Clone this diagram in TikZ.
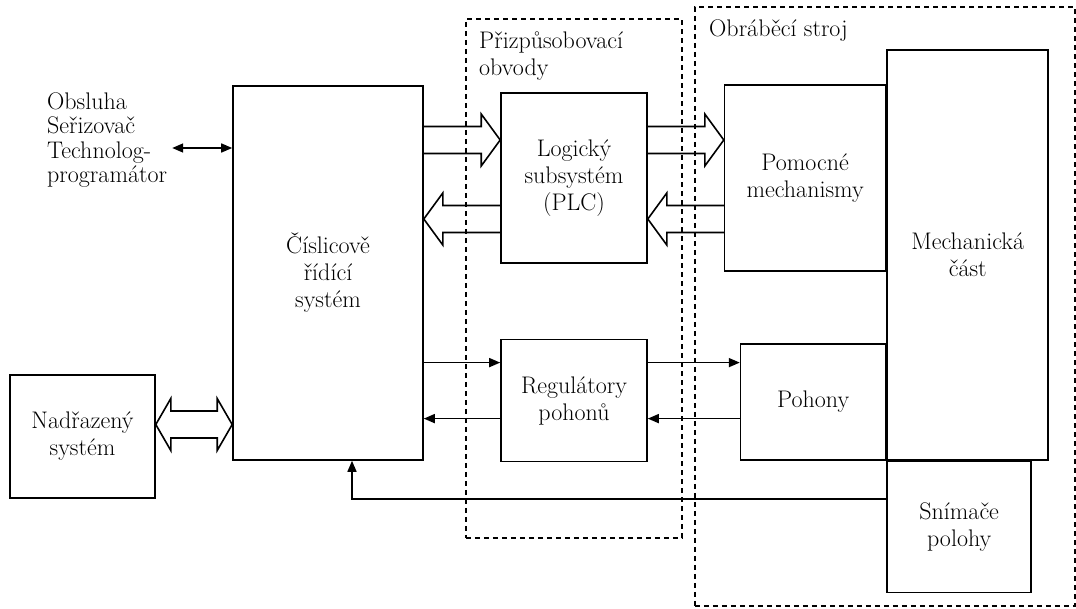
\documentclass[tikz,border=0pt]{standalone}
\usepackage{tikz}
\usetikzlibrary{arrows.meta,positioning,calc}

% hollow bus arrow: #1 start, #2 tip
\newcommand{\fatarrow}[2]{%
  \draw[fat] let \p1=(#1), \p2=(#2), \n1={ifthenelse(\x2>\x1,1,-1)} in
    (\x1,{\y1+13.5pt}) -- ({\x2-\n1*19pt},{\y1+13.5pt}) -- ({\x2-\n1*19pt},{\y1+26pt})
    -- (\x2,\y1) -- ({\x2-\n1*19pt},{\y1-26pt}) -- ({\x2-\n1*19pt},{\y1-13.5pt})
    -- (\x1,{\y1-13.5pt});}
% hollow bus arrow with two heads, #1 left tip, #2 right tip
\newcommand{\fatdouble}[2]{%
  \draw[fat] let \p1=(#1), \p2=(#2) in
    (\x1,\y1) -- ({\x1+15pt},{\y1+26pt}) -- ({\x1+15pt},{\y1+13.5pt})
    -- ({\x2-15pt},{\y1+13.5pt}) -- ({\x2-15pt},{\y1+26pt}) -- (\x2,\y1)
    -- ({\x2-15pt},{\y1-26pt}) -- ({\x2-15pt},{\y1-13.5pt})
    -- ({\x1+15pt},{\y1-13.5pt}) -- ({\x1+15pt},{\y1-26pt}) -- cycle;}

\begin{document}
\begin{tikzpicture}[
    x=1pt,y=1pt,
    font=\fontsize{24}{27}\selectfont,
    box/.style={draw,line width=1.6pt,inner sep=0pt,align=center},
    frame/.style={draw,line width=1.6pt,dash pattern=on 5pt off 4pt,inner sep=0pt,anchor=north west},
    lbl/.style={inner sep=0pt,align=left,anchor=west},
    fat/.style={draw,line width=1.6pt,line join=miter},
    sig/.style={line width=1.6pt},
    >={Triangle[length=11pt,width=9pt]}
  ]
    \useasboundingbox[fill=white] (0,0) rectangle (1076,-608);

    % Dashed groups
    \node[frame,minimum width=216,minimum height=519] (adapt) at (465,-18) {};
    \node[frame,minimum width=380,minimum height=599] (machine) at (694,-6) {};
    \node[lbl] (adaptlbl) at (479,-56) {Přizpůsobovací\\obvody};
    \node[lbl] (machinelbl) at (709,-31) {Obráběcí stroj};

    % Control side
    \node[lbl,font=\fontsize{24}{24.5}\selectfont] (oper) at (47,-140) {Obsluha\\Seřizovač\\Technolog-\\programátor};
    \node[box,minimum width=190,minimum height=374] (cnc) at (328,-273) {Číslicově\\řídící\\systém};
    \node[box,minimum width=145,minimum height=123] (nadr) at (82.5,-436.5) {Nadřazený\\systém};

    % Interface
    \node[box,minimum width=146,minimum height=170] (plc) at (574,-178) {Logický\\subsystém\\(PLC)};
    \node[box,minimum width=146,minimum height=122,below=75pt of plc] (reg) {Regulátory\\pohonů};

    % Machine
    \node[box,minimum width=161,minimum height=186,right=76pt of plc] (pom) {Pomocné\\mechanismy};
    \node[box,minimum width=161,minimum height=410,anchor=north west] (mech) at ([yshift=35pt]pom.north east) {Mechanická\\část};
    \node[box,minimum width=145,minimum height=116,anchor=south east] (poh) at (mech.south west) {Pohony};
    \node[box,minimum width=144,minimum height=131,anchor=north west] (snim) at (mech.south west) {Snímače\\polohy};

    % Operator link
    \coordinate (opa) at ([yshift=-8pt]oper.east);
    \coordinate (opb) at (opa -| cnc.west);
    \draw[sig,<->] ([xshift=-60pt]opb) -- (opb);

    % Buses to and from PLC
    \coordinate (busout) at ([yshift=38pt]plc.west);
    \coordinate (busin) at ([yshift=-41pt]plc.west);
    \fatarrow{busout -| cnc.east}{busout}
    \fatarrow{busin}{busin -| cnc.east}
    \fatarrow{busout -| plc.east}{busout -| pom.west}
    \fatarrow{busin -| pom.west}{busin -| plc.east}

    % Drive signals
    \coordinate (sigout) at ([yshift=38pt]reg.west);
    \coordinate (sigin) at ([yshift=-18pt]reg.west);
    \draw[sig,->] (sigout -| cnc.east) -- (sigout);
    \draw[sig,->] (sigin) -- (sigin -| cnc.east);
    \draw[sig,->] (sigout -| reg.east) -- (sigout -| poh.west);
    \draw[sig,->] (sigin -| poh.west) -- (sigin -| reg.east);

    % Host system bus
    \coordinate (hostbus) at ([yshift=12pt]nadr.east);
    \fatdouble{hostbus}{hostbus -| cnc.west}

    % Position feedback
    \draw[sig,->] ([yshift=28pt]snim.west) -| ([xshift=24pt]cnc.south);
\end{tikzpicture}
\end{document}
